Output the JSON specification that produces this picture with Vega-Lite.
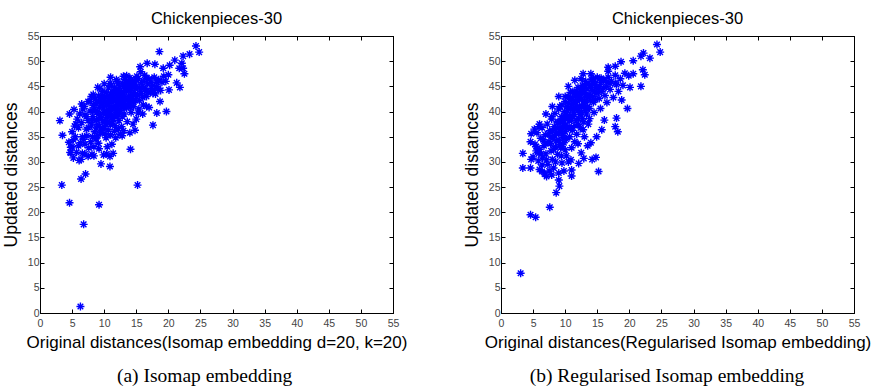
{
 "$schema": "https://vega.github.io/schema/vega-lite/v6.json",
 "padding": {"left": 1, "top": 10, "right": 0, "bottom": 0},
 "datasets": {
  "a": [
   {"x":6.3,"y":1.3},{"x":6.8,"y":17.6},{"x":9.2,"y":21.5},{"x":4.6,"y":21.9},{"x":3.4,"y":25.4},{"x":15.2,"y":25.4},{"x":6.4,"y":26.6},{"x":7.1,"y":27.6},{"x":10.9,"y":29.1},{"x":9.5,"y":29.6},
   {"x":3.1,"y":38.2},{"x":3.5,"y":35.3},{"x":5.3,"y":40.4},{"x":4.6,"y":39.5},{"x":4.7,"y":31.9},{"x":4.8,"y":32.9},{"x":14.1,"y":32.5},{"x":17.6,"y":37.3},{"x":19.7,"y":40.0},{"x":18.2,"y":39.7},
   {"x":18.7,"y":42.0},{"x":20.1,"y":44.3},{"x":21.8,"y":44.8},{"x":21.3,"y":45.7},{"x":18.6,"y":51.9},{"x":24.3,"y":53.0},{"x":24.8,"y":51.8},{"x":23.3,"y":51.4},{"x":22.3,"y":51.0},{"x":21.0,"y":50.2},
   {"x":22.1,"y":49.6},{"x":22.3,"y":48.6},{"x":22.5,"y":47.5},{"x":20.0,"y":47.3},{"x":19.2,"y":48.6},{"x":16.7,"y":49.6},{"x":15.7,"y":47.9},{"x":15.6,"y":48.9},{"x":17.9,"y":49.4},{"x":20.2,"y":49.2},
   {"x":21.7,"y":48.6},{"x":14.8,"y":36.3},{"x":12.8,"y":35.2},{"x":10.9,"y":31.1},{"x":11.4,"y":31.7},{"x":10.4,"y":31.6},{"x":8.4,"y":31.2},{"x":7.5,"y":31.1},{"x":6.4,"y":30.5},{"x":6.6,"y":31.7},
   {"x":6.0,"y":33.2},{"x":5.2,"y":34.4},{"x":6.6,"y":35.0},{"x":9.1,"y":33.7},{"x":9.9,"y":31.4},{"x":7.0,"y":39.3},{"x":5.6,"y":37.5},{"x":5.4,"y":37.1},{"x":6.9,"y":41.0},{"x":7.8,"y":42.0},
   {"x":8.3,"y":43.4},{"x":9.3,"y":44.6},{"x":10.9,"y":45.6},{"x":11.9,"y":46.3},{"x":13.5,"y":47.1},{"x":15.0,"y":46.3},{"x":16.6,"y":46.6},{"x":18.2,"y":45.9},{"x":18.4,"y":44.6},{"x":16.1,"y":41.3},
   {"x":15.3,"y":39.7},{"x":16.6,"y":41.0},{"x":17.6,"y":43.6},{"x":15.8,"y":43.6},{"x":14.0,"y":42.3},
   {"x":7.2,"y":36.5},{"x":7.5,"y":38.2},{"x":7.8,"y":40.1},{"x":8.0,"y":37.3},{"x":8.2,"y":39.0},{"x":8.3,"y":41.2},{"x":8.5,"y":36.0},{"x":8.6,"y":42.5},{"x":8.8,"y":38.4},{"x":9.0,"y":40.0},
   {"x":9.0,"y":35.2},{"x":9.1,"y":43.1},{"x":9.3,"y":37.1},{"x":9.4,"y":39.3},{"x":9.5,"y":41.5},{"x":9.6,"y":36.3},{"x":9.7,"y":44.0},{"x":9.8,"y":38.2},{"x":9.9,"y":40.7},{"x":10.0,"y":42.3},
   {"x":10.0,"y":37.0},{"x":10.1,"y":35.6},{"x":10.2,"y":39.5},{"x":10.3,"y":43.8},{"x":10.4,"y":41.2},{"x":10.5,"y":38.0},{"x":10.6,"y":36.4},{"x":10.7,"y":44.7},{"x":10.8,"y":40.3},{"x":10.9,"y":42.5},
   {"x":11.0,"y":39.1},{"x":11.0,"y":37.4},{"x":11.1,"y":45.3},{"x":11.2,"y":41.8},{"x":11.3,"y":43.2},{"x":11.4,"y":38.6},{"x":11.5,"y":40.5},{"x":11.6,"y":36.1},{"x":11.7,"y":44.2},{"x":11.8,"y":42.0},
   {"x":11.9,"y":39.7},{"x":12.0,"y":46.0},{"x":12.1,"y":41.0},{"x":12.2,"y":43.5},{"x":12.3,"y":38.2},{"x":12.4,"y":44.9},{"x":12.5,"y":40.2},{"x":12.6,"y":42.7},{"x":12.7,"y":37.0},{"x":12.8,"y":45.6},
   {"x":12.9,"y":41.6},{"x":13.0,"y":43.9},{"x":13.1,"y":39.5},{"x":13.2,"y":46.4},{"x":13.3,"y":42.3},{"x":13.4,"y":44.6},{"x":13.5,"y":40.8},{"x":13.6,"y":38.0},{"x":13.7,"y":45.2},{"x":13.8,"y":43.0},
   {"x":13.9,"y":41.5},{"x":14.0,"y":46.7},{"x":14.1,"y":44.1},{"x":14.2,"y":39.8},{"x":14.3,"y":42.6},{"x":14.4,"y":45.8},{"x":14.5,"y":43.5},{"x":14.6,"y":41.0},{"x":14.7,"y":46.2},{"x":14.8,"y":44.6},
   {"x":14.9,"y":42.2},{"x":15.0,"y":45.0},{"x":15.2,"y":43.4},{"x":15.3,"y":46.5},{"x":15.4,"y":40.5},{"x":15.6,"y":44.3},{"x":15.8,"y":45.8},{"x":16.0,"y":42.8},{"x":16.2,"y":46.0},{"x":16.4,"y":44.6},
   {"x":16.6,"y":43.0},{"x":16.8,"y":45.5},{"x":17.0,"y":46.5},{"x":17.2,"y":44.0},{"x":17.5,"y":45.2},{"x":17.8,"y":46.8},{"x":18.0,"y":43.5},{"x":18.2,"y":45.0},{"x":18.5,"y":46.3},{"x":18.8,"y":44.2},
   {"x":19.0,"y":45.8},{"x":19.3,"y":47.0},{"x":19.6,"y":46.0},
   {"x":5.0,"y":36.0},{"x":5.5,"y":35.0},{"x":5.8,"y":38.5},{"x":6.0,"y":36.8},{"x":6.2,"y":39.5},{"x":6.5,"y":37.8},{"x":6.7,"y":40.5},{"x":6.8,"y":34.5},{"x":7.0,"y":33.5},{"x":7.3,"y":35.2},
   {"x":7.6,"y":32.8},{"x":7.9,"y":34.0},{"x":8.1,"y":31.5},{"x":8.4,"y":33.0},{"x":8.7,"y":34.6},{"x":9.2,"y":32.6},{"x":6.3,"y":33.8},{"x":5.7,"y":31.9},{"x":5.0,"y":33.0},{"x":4.8,"y":31.8},
   {"x":4.5,"y":33.9},{"x":5.2,"y":30.8},{"x":6.1,"y":30.3},{"x":7.0,"y":31.6},{"x":11.2,"y":33.5},{"x":11.8,"y":34.8},{"x":12.5,"y":35.5},{"x":13.0,"y":36.2},{"x":10.5,"y":33.0},{"x":14.5,"y":37.5},
   {"x":14.0,"y":35.8},{"x":15.0,"y":38.5},{"x":16.0,"y":39.5},{"x":17.0,"y":40.8},{"x":8.0,"y":43.0},{"x":9.0,"y":44.8},{"x":10.0,"y":45.5},{"x":11.0,"y":46.8},{"x":13.0,"y":47.0},{"x":7.5,"y":42.0},
   {"x":6.5,"y":41.5},
   {"x":8.5,"y":40.5},{"x":9.2,"y":42.0},{"x":9.8,"y":43.2},{"x":10.3,"y":40.0},{"x":10.6,"y":41.7},{"x":11.0,"y":43.5},{"x":11.5,"y":42.8},{"x":12.0,"y":39.0},{"x":12.3,"y":42.0},{"x":12.8,"y":43.0},
   {"x":13.5,"y":45.8},{"x":12.2,"y":45.5},{"x":11.6,"y":44.8},{"x":10.8,"y":37.8},{"x":9.8,"y":36.6},{"x":9.2,"y":38.5},{"x":8.8,"y":36.7},{"x":11.3,"y":38.0},{"x":12.7,"y":41.0},{"x":13.4,"y":41.3},
   {"x":14.2,"y":43.1},{"x":14.8,"y":45.5},{"x":15.5,"y":42.2},{"x":16.5,"y":44.0},{"x":17.3,"y":45.8},
   {"x":8.1,"y":38.2},{"x":8.4,"y":40.0},{"x":8.7,"y":41.6},{"x":8.9,"y":37.4},{"x":9.1,"y":39.4},{"x":9.3,"y":40.8},{"x":9.5,"y":42.8},{"x":9.6,"y":38.8},{"x":9.8,"y":41.8},{"x":10.0,"y":39.8},
   {"x":10.1,"y":43.0},{"x":10.2,"y":37.6},{"x":10.4,"y":38.9},{"x":10.5,"y":42.0},{"x":10.7,"y":39.6},{"x":10.8,"y":43.2},{"x":10.9,"y":41.0},{"x":11.1,"y":40.2},{"x":11.2,"y":38.8},{"x":11.3,"y":42.4},
   {"x":11.5,"y":44.0},{"x":11.6,"y":39.2},{"x":11.8,"y":41.2},{"x":11.9,"y":43.6},{"x":12.0,"y":40.6},{"x":12.1,"y":42.4},{"x":12.2,"y":44.2},{"x":12.4,"y":39.6},{"x":12.5,"y":41.6},{"x":12.6,"y":43.8},
   {"x":12.8,"y":39.0},{"x":12.9,"y":42.2},{"x":13.0,"y":45.0},{"x":13.1,"y":40.6},{"x":13.2,"y":43.0},{"x":13.4,"y":42.2},{"x":13.5,"y":44.0},{"x":13.7,"y":41.2},{"x":13.8,"y":46.0},{"x":14.0,"y":44.8},
   {"x":14.1,"y":40.8},{"x":14.3,"y":45.0},{"x":14.5,"y":41.8},{"x":14.7,"y":43.8},{"x":15.0,"y":43.0},{"x":15.1,"y":47.0},{"x":15.5,"y":44.8},{"x":16.0,"y":45.0},{"x":16.3,"y":47.2},{"x":16.8,"y":43.8},
   {"x":17.4,"y":44.6},{"x":17.8,"y":44.2},{"x":9.4,"y":35.8},{"x":10.3,"y":34.8},{"x":11.0,"y":35.4},{"x":11.7,"y":37.2},{"x":12.2,"y":36.6},{"x":8.2,"y":35.0},{"x":7.6,"y":36.8},{"x":7.2,"y":39.0}
  ],
  "b": [
   {"x":3.06,"y":7.9},{"x":4.6,"y":19.5},{"x":5.4,"y":19.0},{"x":7.6,"y":21.0},{"x":8.6,"y":23.9},{"x":9.1,"y":25.2},{"x":9.0,"y":26.4},{"x":11.0,"y":27.2},{"x":11.0,"y":28.4},{"x":15.2,"y":28.1},
   {"x":7.1,"y":27.1},{"x":7.9,"y":27.4},{"x":3.4,"y":28.8},{"x":4.6,"y":28.8},{"x":3.4,"y":31.7},{"x":4.7,"y":30.5},{"x":4.6,"y":34.0},{"x":4.7,"y":35.6},{"x":5.9,"y":37.0},{"x":7.9,"y":39.0},
   {"x":9.2,"y":41.0},{"x":10.0,"y":43.0},{"x":12.8,"y":47.5},{"x":14.4,"y":46.6},{"x":16.7,"y":48.8},{"x":18.7,"y":49.9},{"x":17.8,"y":49.0},{"x":20.6,"y":50.1},{"x":21.8,"y":51.0},{"x":22.2,"y":51.6},
   {"x":23.2,"y":50.6},{"x":24.3,"y":53.3},{"x":24.8,"y":51.8},{"x":19.9,"y":47.1},{"x":20.6,"y":47.5},{"x":22.1,"y":48.3},{"x":22.4,"y":47.3},{"x":21.8,"y":45.0},{"x":20.1,"y":44.8},{"x":19.7,"y":40.6},
   {"x":18.8,"y":42.3},{"x":18.0,"y":38.7},{"x":17.8,"y":37.0},{"x":18.2,"y":36.0},{"x":16.1,"y":38.3},{"x":15.7,"y":36.4},{"x":14.9,"y":35.0},{"x":14.0,"y":33.8},{"x":14.8,"y":30.9},{"x":14.2,"y":30.5},
   {"x":12.9,"y":30.7},{"x":12.1,"y":29.7},{"x":10.9,"y":30.4},{"x":9.5,"y":33.0},{"x":6.4,"y":29.4},{"x":6.4,"y":28.1},{"x":5.9,"y":31.7},{"x":5.5,"y":33.0},{"x":17.8,"y":45.6},{"x":15.7,"y":46.3},
   {"x":16.7,"y":48.0},
   {"x":5.0,"y":31.0},{"x":5.3,"y":33.5},{"x":5.6,"y":35.8},{"x":5.8,"y":30.2},{"x":6.0,"y":32.5},{"x":6.2,"y":34.7},{"x":6.4,"y":36.8},{"x":6.5,"y":30.8},{"x":6.7,"y":33.2},{"x":6.9,"y":35.4},
   {"x":7.0,"y":31.6},{"x":7.2,"y":37.5},{"x":7.3,"y":29.5},{"x":7.5,"y":34.0},{"x":7.6,"y":36.2},{"x":7.8,"y":32.2},{"x":7.9,"y":38.5},{"x":8.0,"y":30.5},{"x":8.1,"y":34.8},{"x":8.3,"y":37.0},
   {"x":8.4,"y":39.6},{"x":8.5,"y":33.0},{"x":8.6,"y":35.8},{"x":8.8,"y":31.5},{"x":8.9,"y":38.0},{"x":9.0,"y":40.5},{"x":9.1,"y":34.2},{"x":9.2,"y":36.6},{"x":9.3,"y":32.8},{"x":9.4,"y":39.0},
   {"x":9.5,"y":41.3},{"x":9.6,"y":35.2},{"x":9.7,"y":37.6},{"x":9.8,"y":33.8},{"x":9.9,"y":40.0},{"x":10.0,"y":42.0},{"x":10.0,"y":36.0},{"x":10.1,"y":38.5},{"x":10.2,"y":34.5},{"x":10.3,"y":41.0},
   {"x":10.4,"y":39.2},{"x":10.5,"y":43.0},{"x":10.6,"y":37.0},{"x":10.7,"y":35.0},{"x":10.8,"y":40.4},{"x":10.9,"y":42.4},{"x":11.0,"y":38.3},{"x":11.1,"y":36.3},{"x":11.2,"y":44.0},{"x":11.3,"y":41.6},
   {"x":11.4,"y":39.4},{"x":11.5,"y":37.2},{"x":11.6,"y":43.0},{"x":11.7,"y":40.6},{"x":11.8,"y":35.5},{"x":11.9,"y":42.2},{"x":12.0,"y":44.8},{"x":12.1,"y":38.6},{"x":12.2,"y":41.0},{"x":12.3,"y":43.6},
   {"x":12.4,"y":36.8},{"x":12.5,"y":39.8},{"x":12.6,"y":42.4},{"x":12.7,"y":45.2},{"x":12.8,"y":40.8},{"x":12.9,"y":38.0},{"x":13.0,"y":43.8},{"x":13.1,"y":41.8},{"x":13.2,"y":46.0},{"x":13.3,"y":39.5},
   {"x":13.4,"y":44.5},{"x":13.5,"y":42.8},{"x":13.6,"y":37.5},{"x":13.7,"y":45.6},{"x":13.8,"y":40.6},{"x":14.0,"y":43.2},{"x":14.1,"y":46.4},{"x":14.2,"y":44.2},{"x":14.4,"y":41.8},{"x":14.6,"y":45.4},
   {"x":14.8,"y":43.6},{"x":15.0,"y":46.8},{"x":15.1,"y":44.6},{"x":15.3,"y":42.6},{"x":15.5,"y":45.8},{"x":15.7,"y":44.0},{"x":16.0,"y":46.2},{"x":16.2,"y":43.2},{"x":16.4,"y":45.0},{"x":16.7,"y":46.8},
   {"x":17.0,"y":44.4},{"x":17.2,"y":46.0},{"x":17.5,"y":42.8},{"x":17.8,"y":47.2},{"x":18.0,"y":45.4},{"x":18.3,"y":44.0},{"x":18.6,"y":46.5},{"x":19.0,"y":45.2},{"x":19.3,"y":47.6},{"x":8.2,"y":28.8},
   {"x":9.5,"y":29.8},{"x":10.2,"y":31.2},{"x":11.0,"y":32.8},{"x":12.0,"y":33.6},{"x":13.0,"y":35.0},{"x":10.5,"y":30.0},{"x":6.0,"y":28.5},{"x":6.8,"y":27.6},{"x":7.5,"y":28.2},{"x":12.5,"y":31.8},
   {"x":13.5,"y":33.2},{"x":9.0,"y":27.8},{"x":9.8,"y":28.2},{"x":5.2,"y":36.5},{"x":6.0,"y":37.5},{"x":7.0,"y":39.5},{"x":8.0,"y":41.0},{"x":9.0,"y":43.0},{"x":10.5,"y":45.0},{"x":11.5,"y":46.2},
   {"x":12.5,"y":46.5},{"x":14.0,"y":47.5},
   {"x":8.7,"y":36.8},{"x":9.3,"y":38.0},{"x":9.9,"y":39.2},{"x":10.4,"y":40.6},{"x":11.0,"y":41.4},{"x":11.6,"y":41.8},{"x":12.2,"y":42.8},{"x":12.8,"y":43.6},{"x":13.4,"y":43.0},{"x":10.6,"y":38.2},
   {"x":9.6,"y":37.0},{"x":11.3,"y":39.9},{"x":12.0,"y":40.2},{"x":8.4,"y":35.2},{"x":7.8,"y":35.0},{"x":10.8,"y":43.8},{"x":11.8,"y":44.0},{"x":13.9,"y":44.8},{"x":14.6,"y":44.0},{"x":15.4,"y":45.0},
   {"x":7.0,"y":33.8},{"x":7.4,"y":35.6},{"x":7.7,"y":33.6},{"x":8.0,"y":36.2},{"x":8.2,"y":32.5},{"x":8.6,"y":34.2},{"x":8.8,"y":37.8},{"x":9.0,"y":35.6},{"x":9.2,"y":33.4},{"x":9.4,"y":36.0},
   {"x":9.6,"y":38.4},{"x":9.8,"y":34.8},{"x":10.0,"y":37.2},{"x":10.2,"y":39.8},{"x":10.3,"y":36.8},{"x":10.5,"y":41.6},{"x":10.7,"y":38.8},{"x":10.9,"y":36.6},{"x":11.1,"y":42.8},{"x":11.2,"y":39.0},
   {"x":11.4,"y":40.8},{"x":11.5,"y":43.6},{"x":11.7,"y":38.2},{"x":11.9,"y":41.0},{"x":12.0,"y":43.0},{"x":12.1,"y":37.4},{"x":12.3,"y":39.4},{"x":12.4,"y":44.4},{"x":12.6,"y":41.2},{"x":12.7,"y":38.6},
   {"x":12.9,"y":44.6},{"x":13.0,"y":42.0},{"x":13.2,"y":40.2},{"x":13.3,"y":45.4},{"x":13.5,"y":41.0},{"x":13.7,"y":43.4},{"x":13.9,"y":42.2},{"x":14.1,"y":45.2},{"x":14.3,"y":43.0},{"x":14.5,"y":46.0},
   {"x":14.7,"y":42.4},{"x":14.9,"y":44.8},{"x":15.2,"y":43.8},{"x":15.6,"y":46.6},{"x":16.0,"y":44.6},{"x":16.5,"y":45.8},{"x":17.0,"y":45.6},{"x":6.3,"y":31.6},{"x":6.6,"y":34.4},{"x":5.5,"y":32.2},
   {"x":7.1,"y":30.4},{"x":8.5,"y":30.0},{"x":9.4,"y":31.2},{"x":10.0,"y":32.4},{"x":11.5,"y":34.0},{"x":12.8,"y":36.4},{"x":13.8,"y":38.6},{"x":14.5,"y":39.8},{"x":15.5,"y":40.6},{"x":16.5,"y":41.8}
  ]
 },
 "config": {
  "view": {"stroke": "#000", "strokeWidth": 1},
  "font": "Liberation Sans",
  "concat": {"spacing": 54},
  "axis": {
   "grid": false,
   "domainColor": "#000",
   "tickColor": "#000",
   "tickSize": -4,
   "labelFont": "Liberation Sans",
   "labelFontSize": 10.5,
   "labelColor": "#444",
   "labelFlush": false,
   "labelOverlap": false,
   "titleFont": "Liberation Sans",
   "titleFontSize": 17,
   "titleFontWeight": "normal",
   "titleColor": "#000"
  },
  "axisX": {"labelPadding": 9, "titlePadding": 6},
  "axisY": {"labelPadding": 5, "titlePadding": 7, "titleFontSize": 17.5}
 },
 "hconcat": [
  {
   "title": {"text": "(a)  Isomap embedding", "orient": "bottom", "font": "Liberation Serif", "fontSize": 19.5, "fontWeight": "normal", "color": "#000", "offset": 16, "frame": "bounds", "anchor": "middle"},
   "vconcat": [
    {
     "width": 353, "height": 277,
     "title": {"text": "Chickenpieces-30", "fontSize": 16.5, "fontWeight": "normal", "color": "#000", "frame": "group", "anchor": "middle", "offset": 4},
     "data": {"name": "a"},
     "layer": [
      {
       "mark": {"type": "point", "shape": "M-1,0L1,0M0,-1L0,1M-0.7,-0.7L0.7,0.7M-0.7,0.7L0.7,-0.7", "filled": false, "stroke": "#0000ff", "strokeWidth": 1.4, "size": 64, "opacity": 1},
       "encoding": {
        "x": {"field": "x", "type": "quantitative", "scale": {"domain": [0, 55], "nice": false, "zero": false}, "axis": {"orient": "bottom", "values": [0,5,10,15,20,25,30,35,40,45,50,55], "title": "Original distances(Isomap embedding d=20, k=20)"}},
        "y": {"field": "y", "type": "quantitative", "scale": {"domain": [0, 55], "nice": false, "zero": false}, "axis": {"orient": "left", "values": [0,5,10,15,20,25,30,35,40,45,50,55], "title": "Updated distances"}}
       }
      },
      {
       "mark": {"type": "point", "opacity": 0},
       "encoding": {
        "x": {"field": "x", "type": "quantitative", "scale": {"domain": [0, 55], "nice": false, "zero": false}, "axis": {"orient": "top", "values": [0,5,10,15,20,25,30,35,40,45,50,55], "labels": false, "title": null}},
        "y": {"field": "y", "type": "quantitative", "scale": {"domain": [0, 55], "nice": false, "zero": false}, "axis": {"orient": "right", "values": [0,5,10,15,20,25,30,35,40,45,50,55], "labels": false, "title": null}}
       }
      }
     ],
     "resolve": {"axis": {"x": "independent", "y": "independent"}}
    }
   ]
  },
  {
   "title": {"text": "(b)  Regularised Isomap embedding", "orient": "bottom", "font": "Liberation Serif", "fontSize": 19.5, "fontWeight": "normal", "color": "#000", "offset": 16, "frame": "bounds", "anchor": "middle"},
   "vconcat": [
    {
     "width": 353, "height": 277,
     "title": {"text": "Chickenpieces-30", "fontSize": 16.5, "fontWeight": "normal", "color": "#000", "frame": "group", "anchor": "middle", "offset": 4},
     "data": {"name": "b"},
     "layer": [
      {
       "mark": {"type": "point", "shape": "M-1,0L1,0M0,-1L0,1M-0.7,-0.7L0.7,0.7M-0.7,0.7L0.7,-0.7", "filled": false, "stroke": "#0000ff", "strokeWidth": 1.4, "size": 64, "opacity": 1},
       "encoding": {
        "x": {"field": "x", "type": "quantitative", "scale": {"domain": [0, 55], "nice": false, "zero": false}, "axis": {"orient": "bottom", "values": [0,5,10,15,20,25,30,35,40,45,50,55], "title": "Original distances(Regularised Isomap embedding)"}},
        "y": {"field": "y", "type": "quantitative", "scale": {"domain": [0, 55], "nice": false, "zero": false}, "axis": {"orient": "left", "values": [0,5,10,15,20,25,30,35,40,45,50,55], "title": "Updated distances"}}
       }
      },
      {
       "mark": {"type": "point", "opacity": 0},
       "encoding": {
        "x": {"field": "x", "type": "quantitative", "scale": {"domain": [0, 55], "nice": false, "zero": false}, "axis": {"orient": "top", "values": [0,5,10,15,20,25,30,35,40,45,50,55], "labels": false, "title": null}},
        "y": {"field": "y", "type": "quantitative", "scale": {"domain": [0, 55], "nice": false, "zero": false}, "axis": {"orient": "right", "values": [0,5,10,15,20,25,30,35,40,45,50,55], "labels": false, "title": null}}
       }
      }
     ],
     "resolve": {"axis": {"x": "independent", "y": "independent"}}
    }
   ]
  }
 ]
}
